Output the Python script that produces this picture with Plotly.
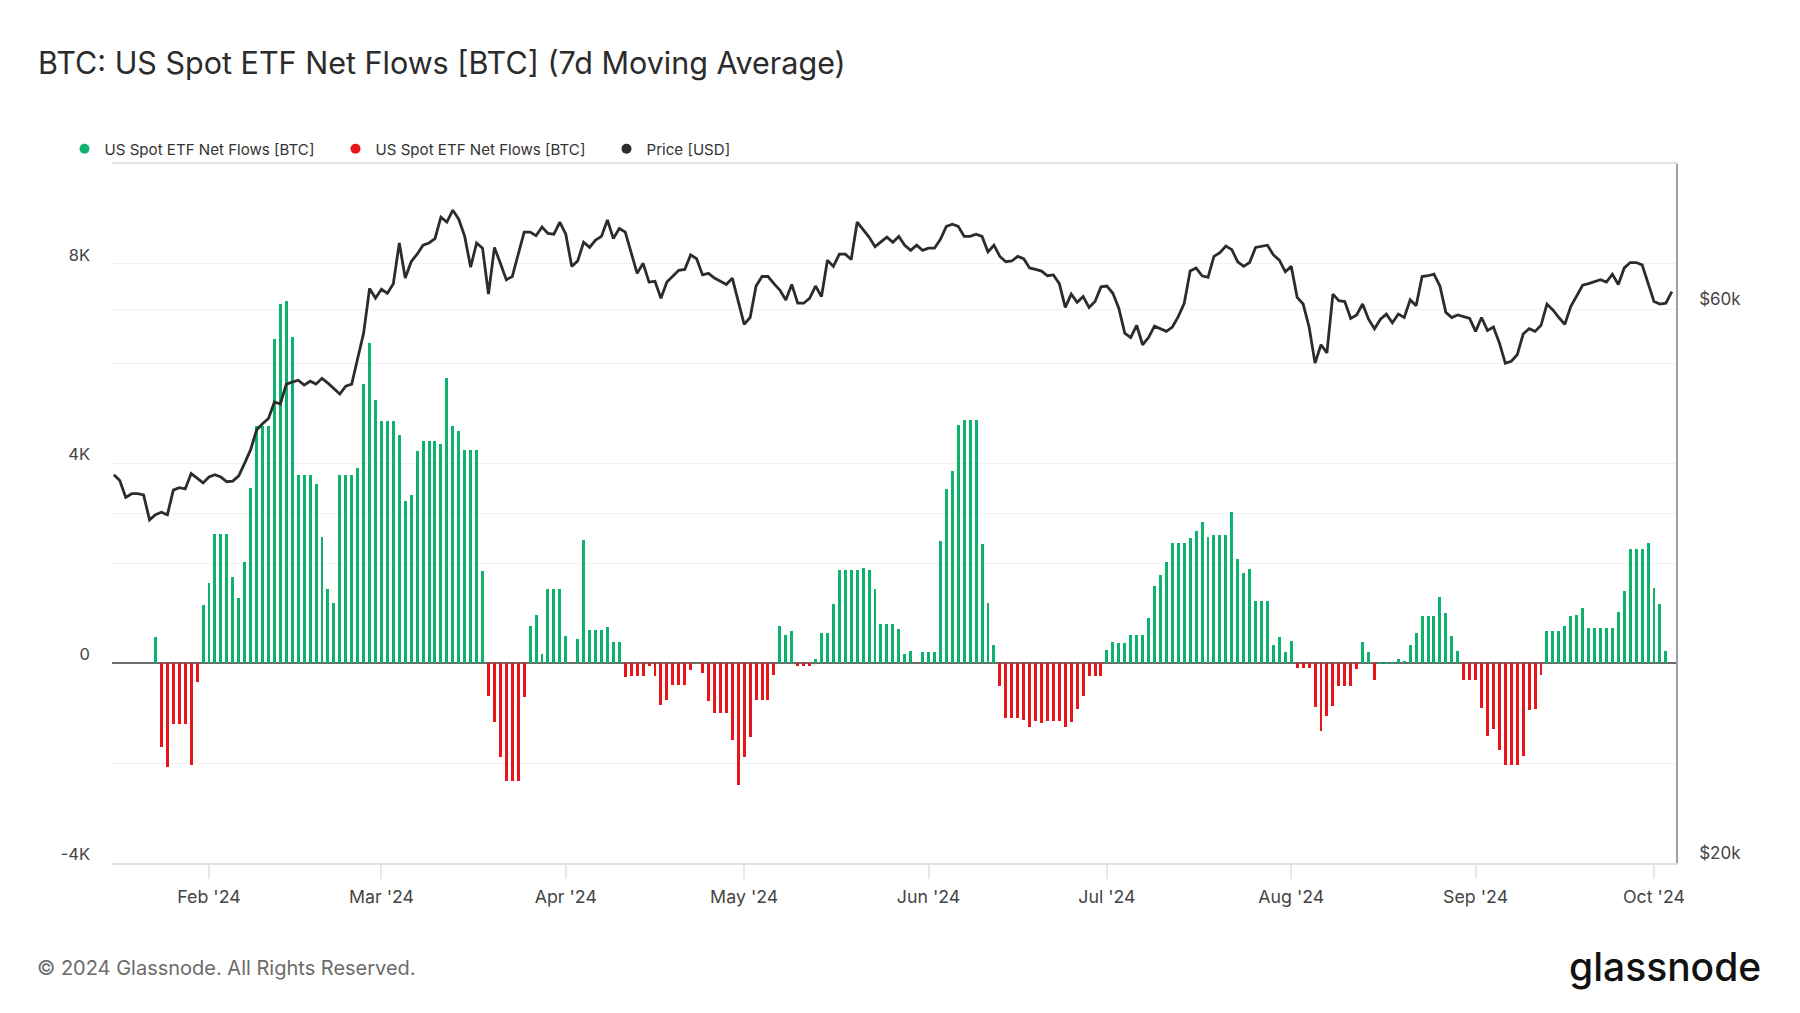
import numpy as np
import pandas as pd
import plotly.graph_objects as go

# ---------------- data ----------------
flow_start = "2024-01-23"   # first daily 7d-MA flow bar
flows_btc = [520, -1680, -2080, -1220, -1220, -1220, -2030, -380, 1160, 1600, 2590, 2590, 2590, 1720, 1310, 2020,
             3510, 4760, 4760, 4760, 6500, 7200, 7250, 6530, 3780, 3780, 3780, 3600, 2520, 1490, 1210, 3780,
             3780, 3780, 3920, 5600, 6410, 5280, 4850, 4850, 4850, 4580, 3260, 3370, 4250, 4460, 4460, 4460,
             4400, 5720, 4760, 4660, 4280, 4280, 4280, 1840, -650, -1180, -1870, -2350, -2350, -2350, -670, 750,
             970, 190, 1490, 1490, 1490, 550, 0, 490, 2470, 670, 670, 670, 730, 420, 420, -280,
             -250, -250, -250, -60, -250, -830, -730, -430, -430, -430, -130, 0, -190, -760, -1000, -1000,
             -1000, -1540, -2430, -1870, -1480, -730, -730, -730, -230, 750, 570, 640, -50, -50, -50, 90,
             600, 600, 1180, 1870, 1870, 1870, 1870, 1900, 1870, 1480, 790, 790, 790, 690, 190, 240,
             0, 220, 220, 220, 2440, 3490, 3860, 4780, 4880, 4880, 4880, 2380, 1200, 370, -460, -1100,
             -1100, -1100, -1130, -1270, -1150, -1200, -1150, -1150, -1150, -1270, -1180, -920, -650, -250, -250, -250,
             270, 420, 400, 400, 570, 570, 570, 910, 1540, 1770, 2020, 2410, 2410, 2410, 2500, 2650,
             2830, 2520, 2560, 2560, 2560, 3040, 2080, 1800, 1890, 1240, 1240, 1240, 370, 520, 220, 450,
             -90, -90, -90, -880, -1360, -1050, -850, -450, -450, -450, -110, 420, 220, -330, 20, 20,
             20, 90, 50, 370, 600, 940, 940, 940, 1320, 1000, 550, 240, -330, -330, -330, -900,
             -1450, -1320, -1740, -2030, -2030, -2030, -1850, -940, -920, -230, 650, 650, 650, 750, 940, 970,
             1110, 700, 700, 700, 700, 700, 1020, 1440, 2280, 2280, 2280, 2410, 1510, 1180, 240]

price_start = "2024-01-16"  # first daily price point
price_usd = [43200, 42700, 41300, 41600, 41600, 41500, 39500, 39900, 40100, 39900, 41900, 42100, 42000, 43300,
             42900, 42500, 43000, 43200, 43000, 42600, 42650, 43100, 44200, 45400, 47200, 47800, 48300, 49900,
             49700, 51700, 51900, 52100, 51600, 52000, 51700, 52300, 51800, 51200, 50700, 51500, 51700, 54400,
             57200, 62500, 61300, 62400, 61900, 63100, 68400, 63800, 65900, 66900, 68100, 68400, 69000, 72000,
             71300, 73000, 71700, 69300, 65200, 68400, 67700, 61800, 67800, 65700, 63600, 64000, 66900, 69900,
             69900, 69400, 70600, 69700,
             69600, 71300, 69600, 65300, 66000, 68500, 67800, 68800, 69300, 71600, 69000, 70400, 69900, 67200,
             64400, 65700, 63300, 63400, 61300, 63300, 64000, 64800, 64900, 66800, 66300, 64200, 64400, 63800,
             63400, 63000, 63800, 61100, 58200, 59000, 62800, 64000, 64000, 63100, 62300, 61100, 63000, 60700,
             60700, 61300, 62800, 61500, 66100, 65300, 66900, 66900, 66200, 71300, 70300, 69200, 67900, 68600,
             69200, 68500, 69300, 68100, 67400, 68100, 67400, 67700, 67700, 68900, 70700,
             71000, 70700, 69300, 69300, 69600, 69300, 67200, 68100, 66600, 65900, 66000, 66600, 66300, 65100,
             64900, 64700, 64100, 64200, 63100, 60200, 61800, 60800, 61500, 60200, 60900, 62700, 62800, 61900,
             60100, 57200, 56700, 58100, 55900, 56700, 58000, 57700, 57400, 57900, 59100, 60700, 64700, 65100,
             64100, 63900, 66600, 67100, 68000, 67500, 65900, 65300, 65800, 67800, 68000, 68100, 66800, 66100,
             64600, 65300, 61400, 60600, 57900, 53900, 55900, 55000, 61800, 61000, 60900, 58900,
             59300, 60600, 58800, 57700, 58800, 59400, 58400, 59400, 59000, 61100, 60400, 64000, 64100, 64300,
             62800, 59600, 59000, 59300, 59100, 58900, 57400, 59000, 57500, 57900, 56100, 53900, 54100, 54800,
             57100, 57700, 57400, 58100, 60600, 59900, 59000, 58200, 60300, 61500, 62900, 63100, 63400, 63600,
             63300, 64300, 63000, 65100, 65800, 65800, 65500, 63000, 60900, 60600, 60700, 62100]

left_ticks = [-4000, -2000, 0, 2000, 4000, 6000, 8000, 10000]
left_labels = ["-4K", "", "0", "", "4K", "", "8K", ""]
right_ticks = [20000, 40000, 60000]
right_labels = ["$20k", "", "$60k"]

series_name = "US Spot ETF Net Flows [BTC]"
price_name = "Price [USD]"
GREEN = "#0fb26c"
RED = "#e8151b"
DARK = "#2c2c2c"
FONT = "Inter"

# ---------------- figure ----------------
flow_dates = pd.date_range(flow_start, periods=len(flows_btc), freq="D")
price_dates = pd.date_range(price_start, periods=len(price_usd), freq="D")
flows = np.array(flows_btc, dtype=float)
pos = np.where(flows > 0, flows, np.nan)
neg = np.where(flows < 0, flows, np.nan)

bar_w = 0.5 * 86400000  # half a day in ms

fig = go.Figure()
fig.add_trace(go.Bar(x=flow_dates, y=pos, width=bar_w, marker=dict(color=GREEN, line_width=0, cornerradius=1.5),
                     name=series_name, showlegend=False, yaxis="y"))
fig.add_trace(go.Bar(x=flow_dates, y=neg, width=bar_w, marker=dict(color=RED, line_width=0, cornerradius=1.5),
                     name=series_name, showlegend=False, yaxis="y"))
fig.add_trace(go.Scatter(x=price_dates, y=price_usd, mode="lines", line=dict(color=DARK, width=2.8),
                         name=price_name, showlegend=False, yaxis="y2"))

# legend entries (round dots like the reference)
for nm, col in [(series_name, GREEN), (series_name, RED), (price_name, DARK)]:
    fig.add_trace(go.Scatter(x=[None], y=[None], mode="markers", name=nm,
                             marker=dict(color=col, size=10, symbol="circle"), showlegend=True))

L, R, T, B = 112, 124, 164, 150
W, H = 1800, 1013
pw, ph = W - L - R, H - T - B


def px_x(px):
    return (px - L) / pw


def px_y(py):
    return (H - B - py) / ph


fig.update_layout(
    width=W, height=H,
    margin=dict(l=L, r=R, t=T, b=B, pad=0),
    paper_bgcolor="white", plot_bgcolor="white",
    font=dict(family=FONT, color="#333333", size=16),
    barmode="overlay", bargap=0,
    title=dict(text="BTC: US Spot ETF Net Flows [BTC] (7d Moving Average)",
               x=38 / W, xref="container", xanchor="left",
               y=1 - 63 / H, yref="container", yanchor="middle",
               font=dict(family=FONT, size=30.5, color="#2b2b2b")),
    legend=dict(orientation="h", x=px_x(64.5), xanchor="left", y=px_y(149), yanchor="middle",
                font=dict(family=FONT, size=15.1, color="#333333"),
                itemwidth=30, entrywidth=226, entrywidthmode="pixels",
                bgcolor="rgba(0,0,0,0)", itemclick=False),
    xaxis=dict(type="date", range=["2024-01-15 16:30", "2024-10-04 16:50"],
               tick0="2024-02-01", dtick="M1", tickformat="%b '%y",
               showgrid=False, zeroline=False,
               showline=True, linecolor="#e3e3e3", linewidth=1.5, mirror=True,
               ticks="outside", ticklen=14, tickcolor="#e6e6e6", tickwidth=1.5,
               ticklabelstandoff=3,
               tickfont=dict(family=FONT, size=17.8, color="#444444")),
    yaxis=dict(range=[-4000, 10000], tickvals=left_ticks, ticktext=left_labels,
               showgrid=True, gridcolor="#f1f1f1", gridwidth=1,
               zeroline=True, zerolinecolor="#6a6a6a", zerolinewidth=2,
               showline=False, ticks="", ticklabelstandoff=21, ticklabelshift=-9,
               tickfont=dict(family=FONT, size=16.5, color="#444444")),
    yaxis2=dict(type="log", overlaying="y", side="right",
                range=[np.log10(20000), np.log10(80000)],
                tickvals=right_ticks, ticktext=right_labels,
                showgrid=True, gridcolor="#f1f1f1", gridwidth=1, zeroline=False,
                showline=True, linecolor="#a0a0a0", linewidth=1.5,
                ticks="", ticklabelstandoff=18, ticklabelshift=-10,
                tickfont=dict(family=FONT, size=17, color="#444444")),
    annotations=[
        dict(text="© 2024 Glassnode. All Rights Reserved.", xref="paper", yref="paper",
             x=px_x(34.5), y=px_y(968), xanchor="left", yanchor="middle", showarrow=False,
             font=dict(family=FONT, size=20, color="#6b6b6b")),
        dict(text="glassnode", xref="paper", yref="paper",
             x=px_x(1763), y=px_y(966), xanchor="right", yanchor="middle", showarrow=False,
             font=dict(family=FONT, size=39, color="#111111", weight=500)),
    ],
)

fig.write_html("out.html", config={"displayModeBar": False},
               post_script="document.body.style.margin='0';")
